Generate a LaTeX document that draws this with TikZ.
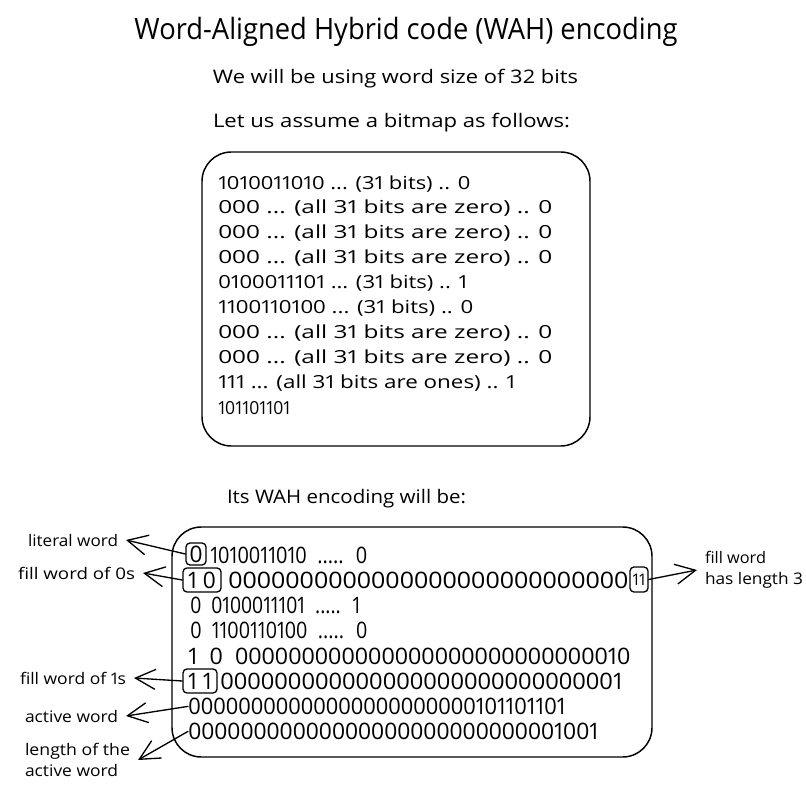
\documentclass[tikz,border=0pt]{standalone}
\usepackage{fontspec}
\setmainfont{Open Sans}[Numbers=Proportional]
\usetikzlibrary{arrows.meta}
\newlength\pxu
\setlength\pxu{0.75pt}
\newcommand\wf[2]{\resizebox{#1\pxu}{\height}{#2}}
\begin{document}
\begin{tikzpicture}[x=0.75pt,y=-0.75pt,
  titlef/.style={font=\fontsize{22}{26}\selectfont, inner sep=0, anchor=base},
  headf/.style={font=\fontsize{14}{17}\selectfont, inner sep=0, anchor=base},
  toptxt/.style={font=\fontsize{13.5}{16}\selectfont, inner sep=0, anchor=base west},
  bittxt/.style={font=\fontsize{17}{20}\selectfont, inner sep=0, anchor=base west},
  lab/.style={font=\fontsize{12}{15.5}\selectfont, inner sep=0, outer sep=6pt, align=left},
  frame/.style={draw, line width=1.1pt, rounded corners=22pt},
  bitbox/.style={draw, line width=1pt, rounded corners=3pt, inner sep=0,
    font=\fontsize{17}{20}\selectfont},
  arr/.style={-{Straight Barb[length=15pt,width=15pt,line width=1pt]}, line width=1pt, line cap=round}
]
\useasboundingbox (0,0) rectangle (806,791);

% headings
\node[titlef] (title) at (406,40) {\wf{543}{Word-Aligned Hybrid code (WAH) encoding}};
\node[headf] (h1) at (395.5,84) {\wf{365}{We will be using word size of 32 bits}};
\node[headf] (h2) at (391.5,128) {\wf{357}{Let us assume a bitmap as follows:}};
\node[headf] (h3) at (346.5,503) {\wf{239}{Its WAH encoding will be:}};

% top box
\node[frame, minimum width=291pt, minimum height=220.5pt] (topbox) at (396,299) {};
\node[toptxt] (t1) at (218,189.5) {\wf{252}{1010011010 ... (31 bits) .. 0}};
\node[toptxt] (t2) at (218,213.5) {\wf{334}{000 ... (all 31 bits are zero) .. 0}};
\node[toptxt] (t3) at (218,238.5) {\wf{334}{000 ... (all 31 bits are zero) .. 0}};
\node[toptxt] (t4) at (218,263.5) {\wf{334}{000 ... (all 31 bits are zero) .. 0}};
\node[toptxt] (t5) at (218,288.5) {\wf{249}{0100011101 ... (31 bits) .. 1}};
\node[toptxt] (t6) at (218,313.5) {\wf{255}{1100110100 ... (31 bits) .. 0}};
\node[toptxt] (t7) at (218,338.5) {\wf{334}{000 ... (all 31 bits are zero) .. 0}};
\node[toptxt] (t8) at (218,363.5) {\wf{334}{000 ... (all 31 bits are zero) .. 0}};
\node[toptxt] (t9) at (218,388.5) {\wf{297}{111 ... (all 31 bits are ones) .. 1}};
\node[toptxt] (t10) at (218,414.5) {\wf{72}{101101101}};

% bottom box
\node[frame, minimum width=360pt, minimum height=172.5pt] (botbox) at (412,642) {};

\node[bitbox, minimum width=15pt, minimum height=16.5pt] (b0) at (196,554) {0};
\node[bittxt] (r1) at (210,563.5) {\wf{157}{1010011010 \ ..... \ 0}};

\node[bitbox, minimum width=28.5pt, minimum height=18pt] (b10) at (202,580) {1 0};
\node[bittxt] (r2) at (228,588.5) {\wf{400}{0000000000000000000000000000}};
\node[bitbox, minimum width=13.5pt, minimum height=18.75pt, font=\fontsize{12}{14}\selectfont] (b11r) at (639,579.5) {11};

\node[bittxt] (r3) at (190,613.5) {\wf{170}{0 \ 0100011101 \ ..... \ 1}};
\node[bittxt] (r4) at (190,638.5) {\wf{177}{0 \ 1100110100 \ ..... \ 0}};
\node[bittxt] (r5) at (188,664.5) {\wf{442}{1 \ 0 \ 000000000000000000000000000010}};

\node[bitbox, minimum width=25.5pt, minimum height=18pt] (b11) at (200,681) {1 1};
\node[bittxt] (r6) at (220,689.5) {\wf{402}{000000000000000000000000000001}};
\node[bittxt] (r7) at (188,714.5) {\wf{377}{00000000000000000000000101101101}};
\node[bittxt] (r8) at (188,739.5) {\wf{410}{00000000000000000000000000001001}};

% labels
\node[lab, anchor=west] (llit) at (20,540) {\wf{90}{literal word}};
\node[lab, anchor=west] (lf0) at (10,573) {\wf{117}{fill word of 0s}};
\node[lab, anchor=west] (lf1) at (12,678) {\wf{106}{fill word of 1s}};
\node[lab, anchor=west] (lact) at (17,716) {\wf{93}{active word}};
\node[lab, anchor=west] (llen) at (17,760) {\wf{105}{length of the}\\\wf{93}{active word}};
\node[lab, anchor=west] (lfill) at (697,570) {\wf{61}{fill word}\\\wf{98}{has length 3}};

% arrows
\draw[arr] (b0.west) -- (llit.east);
\draw[arr] (b10.west) -- (lf0.east);
\draw[arr] (b11.west) -- (lf1.east);
\draw[arr] (r7.west) -- (lact.east);
\draw[arr] (r8.west) -- (llen.east);
\draw[arr] (b11r.east) -- (lfill.west);
\end{tikzpicture}
\end{document}
